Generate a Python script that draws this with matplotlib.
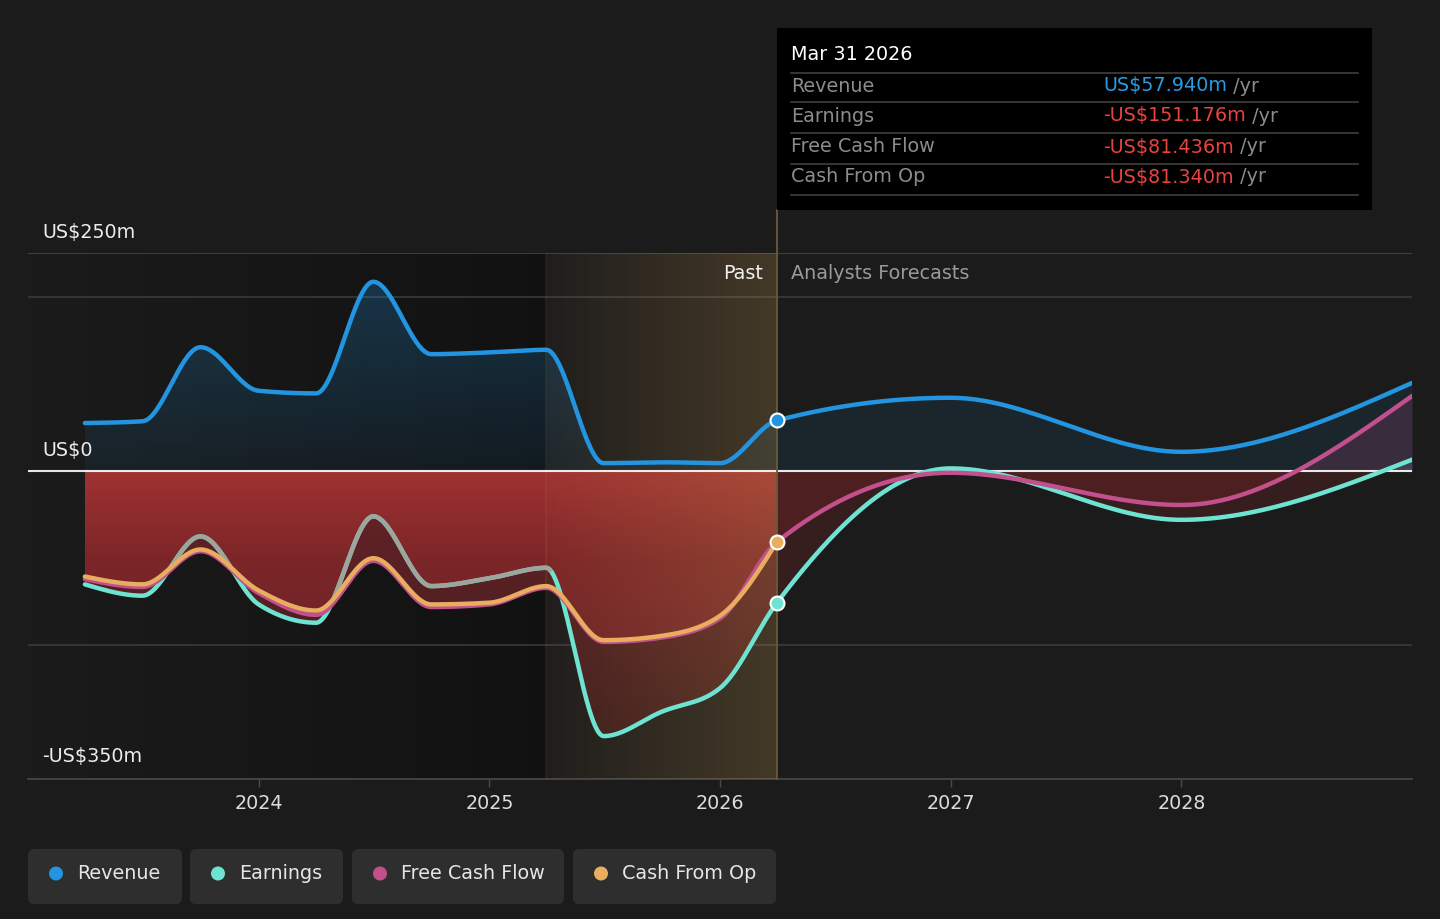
import datetime
import numpy as np
import matplotlib
matplotlib.use("Agg")
import matplotlib.pyplot as plt
from matplotlib.path import Path
from matplotlib.patches import PathPatch, FancyBboxPatch, Rectangle, Circle

# ---------------- data (US$ m) ----------------
past_dates = ["2023-03-31", "2023-06-30", "2023-09-30", "2023-12-31",
              "2024-03-31", "2024-06-30", "2024-09-30", "2024-12-31",
              "2025-03-31", "2025-06-30", "2025-09-30", "2025-12-31",
              "2026-03-31"]
forecast_dates = ["2026-12-31", "2027-12-31", "2028-12-31"]

revenue_past = [55, 57, 142, 92, 89, 217, 134, 136, 139, 9, 10, 9, 57.940]
revenue_fc = [84, 22, 101]
earnings_past = [-130, -143, -75, -153, -174, -52, -132, -123, -111,
                 -304, -276, -249, -151.176]
earnings_fc = [3, -56, 13]
fcf_past = [-124, -133, -92, -140, -165, -103, -156, -153, -134,
            -196, -191, -169, -81.436]
fcf_fc = [-2, -39, 86]
cfo_past = [-121, -130, -90, -137, -160, -100, -153, -151, -132,
            -194, -189, -166, -81.340]

year_ticks = [2024, 2025, 2026, 2027, 2028]
y_labels = [(250, "US$250m"), (0, "US$0"), (-350, "-US$350m")]
grid_vals = [250, 200, -200]
legend_names = ["Revenue", "Earnings", "Free Cash Flow", "Cash From Op"]

C_REV = "#2394df"
C_EARN = "#6fe3d2"
C_FCF = "#c1508c"
C_CFO = "#e8ad5f"
C_GRAY = "#9da59d"
BG = "#1b1b1b"
FS = 13.8


def dec_year(s):
    d = datetime.date.fromisoformat(s)
    start = datetime.date(d.year, 1, 1)
    ndays = (datetime.date(d.year + 1, 1, 1) - start).days
    return d.year + (d - start).days / ndays + 1 / ndays


def monotone(xs, ys, n=60):
    xs = np.asarray(xs, float)
    ys = np.asarray(ys, float)
    h = np.diff(xs)
    s = np.diff(ys) / h
    m = len(xs)
    t = np.zeros(m)
    sg = lambda v: -1.0 if v < 0 else 1.0
    for i in range(1, m - 1):
        h0, h1, s0, s1 = h[i - 1], h[i], s[i - 1], s[i]
        p = (s0 * h1 + s1 * h0) / (h0 + h1)
        t[i] = (sg(s0) + sg(s1)) * min(abs(s0), abs(s1), 0.5 * abs(p))
    t[0] = (3 * s[0] - t[1]) / 2
    t[-1] = (3 * s[-1] - t[-2]) / 2
    X, Y = [], []
    for i in range(m - 1):
        u = np.linspace(0, 1, n, endpoint=(i == m - 2))
        hh = h[i]
        h00 = 2 * u**3 - 3 * u**2 + 1
        h10 = u**3 - 2 * u**2 + u
        h01 = -2 * u**3 + 3 * u**2
        h11 = u**3 - u**2
        X.append(xs[i] + u * hh)
        Y.append(h00 * ys[i] + h10 * hh * t[i] + h01 * ys[i + 1] + h11 * hh * t[i + 1])
    return np.concatenate(X), np.concatenate(Y)


xp = np.array([dec_year(d) for d in past_dates])
xf = np.array([dec_year(d) for d in forecast_dates])
x_all = np.concatenate([xp, xf])
x_now = xp[-1]

xr, rev = monotone(x_all, revenue_past + revenue_fc)
_, earn = monotone(x_all, earnings_past + earnings_fc)
_, fcf = monotone(x_all, fcf_past + fcf_fc)
xc, cfo = monotone(xp, cfo_past)

W, H = 1440, 919
XMIN, XMAX = 2023.0, 2029.0
YMIN, YMAX = -353.2, 250.0

fig = plt.figure(figsize=(W / 100, H / 100), dpi=100)
fig.patch.set_facecolor(BG)
ax = fig.add_axes([28 / W, 1 - 779 / H, 1384 / W, (779 - 253) / H])
ax.set_facecolor("none")
ax.set_xlim(XMIN, XMAX)
ax.set_ylim(YMIN, YMAX)
for sp in ["top", "left", "right"]:
    ax.spines[sp].set_visible(False)
ax.spines["bottom"].set_color("#4a4a4a")
ax.spines["bottom"].set_linewidth(1.2)
ax.set_yticks([])
ax.set_xticks(year_ticks)
ax.set_xticklabels([str(y) for y in year_ticks])
ax.tick_params(axis="x", colors="#4a4a4a", length=6, width=1, pad=4.5,
               labelcolor="#dcdcdc", labelsize=FS)


def hgrad(x0, x1, stops, z):
    xs = np.linspace(x0, x1, 300)
    sx = [s[0] for s in stops]
    cols = np.array([s[1] for s in stops], float)
    img = np.zeros((2, 300, 4))
    for c in range(4):
        img[:, :, c] = np.interp(xs, sx, cols[:, c])[None, :]
    ax.imshow(img, extent=[x0, x1, YMIN, YMAX], origin="lower", aspect="auto",
              zorder=z, interpolation="bilinear")


def vgrad_fill(x, ya, yb, stops, z):
    verts = np.concatenate([np.column_stack([x, ya]), np.column_stack([x[::-1], yb[::-1]])])
    patch = PathPatch(Path(verts), facecolor="none", edgecolor="none", transform=ax.transData)
    ax.add_patch(patch)
    ys = np.linspace(YMIN, YMAX, 400)
    sy = [s[0] for s in stops]
    cols = np.array([s[1] for s in stops], float)
    img = np.zeros((400, 2, 4))
    for c in range(4):
        img[:, :, c] = np.interp(ys, sy, cols[:, c])[:, None]
    im = ax.imshow(img, extent=[x.min(), x.max(), YMIN, YMAX], origin="lower",
                   aspect="auto", zorder=z, interpolation="bilinear")
    im.set_clip_path(patch)


def rgb(r, g, b, a=1.0):
    return (r / 255, g / 255, b / 255, a)


# darkened past background
x_hl = dec_year("2025-03-31")
hgrad(XMIN, x_hl, [(XMIN, rgb(0, 0, 0, 0.0)), (x_hl, rgb(0, 0, 0, 0.35))], 0.5)

# grid lines
for g in grid_vals:
    ax.axhline(g, color="#3d3d3d" if g != 250 else "#4a4a4a", lw=1.1, zorder=1)

# past fills
pm = xr <= x_now + 1e-9
xpd = xr[pm]
zeros = np.zeros_like(xpd)
vgrad_fill(xpd, zeros, np.maximum(rev[pm], 0),
           [(0, rgb(35, 148, 223, 0.07)), (220, rgb(35, 148, 223, 0.26))], 2)
cfo_on = np.interp(xpd, xc, cfo)
stack = np.vstack([earn[pm], cfo_on, fcf[pm]])
upper = np.minimum(stack.max(axis=0), 0)
lower = np.minimum(stack.min(axis=0), 0)
vgrad_fill(xpd, zeros, lower,
           [(-353, rgb(52, 27, 27)), (-300, rgb(60, 28, 28)), (-150, rgb(84, 32, 35)),
            (0, rgb(104, 36, 40))], 2.1)
vgrad_fill(xpd, zeros, upper,
           [(-353, rgb(95, 32, 34)), (-200, rgb(110, 35, 38)), (-100, rgb(124, 38, 40)),
            (0, rgb(160, 50, 50))], 2.2)

# forecast fills
fm = xr >= x_now - 1e-9
xfd = xr[fm]
ax.fill_between(xfd, 0, np.maximum(rev[fm], 0), color=C_REV, alpha=0.09, lw=0, zorder=2)
for ser in (earn[fm], fcf[fm]):
    ax.fill_between(xfd, 0, np.minimum(ser, 0), color=rgb(200, 45, 50), alpha=0.16, lw=0, zorder=2)
ax.fill_between(xfd, 0, np.maximum(fcf[fm], 0), color=C_FCF, alpha=0.18, lw=0, zorder=2)
ax.fill_between(xfd, 0, np.maximum(earn[fm], 0), color=C_EARN, alpha=0.12, lw=0, zorder=2)

# highlighted last-year band
hgrad(x_hl, x_now, [(x_hl, rgb(200, 154, 80, 0.03)), (x_now, rgb(200, 154, 80, 0.24))], 3)
ax.plot([x_hl, x_hl], [YMIN, YMAX], color="#c89a50", alpha=0.12, lw=1.2, zorder=3.1)

# zero line
ax.axhline(0, color="white", lw=1.5, alpha=0.9, zorder=3.5)

# lines
ax.plot(xr, rev, color=C_REV, lw=3.2, zorder=5, solid_capstyle="round")
ax.plot(xr, earn, color=C_EARN, lw=3.2, zorder=5.1, solid_capstyle="round")
earn_gray = np.where((xr <= x_hl + 0.02) & (earn > np.interp(xr, xc, cfo)), earn, np.nan)
ax.plot(xr, earn_gray, color=C_GRAY, lw=3.2, zorder=5.15, solid_capstyle="round")
ax.plot(xr, fcf, color=C_FCF, lw=3.2, zorder=5.2, solid_capstyle="round")
ax.plot(xc, cfo, color=C_CFO, lw=3.2, zorder=5.3, solid_capstyle="round")

# current markers
for val, col in ((revenue_past[-1], C_REV), (earnings_past[-1], C_EARN), (cfo_past[-1], C_CFO)):
    ax.plot([x_now], [val], marker="o", ms=10, mfc=col, mec="white", mew=1.5, zorder=7)

# vertical "now" line up to tooltip
ax.plot([x_now, x_now], [YMIN, YMAX + (253 - 210) / 0.872], color="#6b5a38",
        lw=1.3, zorder=4, clip_on=False)

# Past / forecast labels
ax.annotate("Past", (x_now, 226), xytext=(-10, 0), textcoords="offset points",
            ha="right", va="center", color="#f0f0f0", fontsize=FS, zorder=8)
ax.annotate("Analysts Forecasts", (x_now, 226), xytext=(10.5, 0), textcoords="offset points",
            ha="left", va="center", color="#9a9a9a", fontsize=FS, zorder=8)

# y labels
for v, lab in y_labels:
    ax.annotate(lab, (XMIN, v), xytext=(10, 14.5), textcoords="offset points",
                ha="left", va="center", color="#ececec", fontsize=FS,
                annotation_clip=False, zorder=8)

# ---------------- overlay (pixel coordinates) ----------------
ov = fig.add_axes([0, 0, 1, 1])
ov.set_xlim(0, W)
ov.set_ylim(H, 0)
ov.axis("off")
ov.set_facecolor("none")

# tooltip
ov.add_patch(Rectangle((777, 28), 595, 182, facecolor="black", edgecolor="none", zorder=1))
d_now = datetime.date.fromisoformat(past_dates[-1])
ov.text(791, 55, d_now.strftime("%b %d %Y"), color="white", fontsize=FS, va="center", zorder=2)
for yy in (73, 102, 133, 164, 195):
    ov.plot([791, 1358], [yy, yy], color="#3f3f3f", lw=1.2, zorder=2)


def money(v):
    return ("-" if v < 0 else "") + "US$" + f"{abs(v):.3f}m"


rows = [("Revenue", revenue_past[-1], "#2d9ae0"),
        ("Earnings", earnings_past[-1], "#e8433f"),
        ("Free Cash Flow", fcf_past[-1], "#e8433f"),
        ("Cash From Op", cfo_past[-1], "#e8433f")]
vals_txt = []
for (lab, v, col), yy in zip(rows, (86, 116, 147, 177)):
    ov.text(791, yy, lab, color="#8c8c8c", fontsize=FS, va="center", zorder=2)
    t = ov.text(1103, yy, money(v), color=col, fontsize=FS, va="center", zorder=2)
    vals_txt.append((t, yy))

fig.canvas.draw()
renderer = fig.canvas.get_renderer()
inv = ov.transData.inverted()
for t, yy in vals_txt:
    bb = t.get_window_extent(renderer)
    xend = inv.transform((bb.x1, bb.y0))[0]
    ov.text(xend, yy, " /yr", color="#8c8c8c", fontsize=FS, va="center", zorder=2)

# legend
boxes = [(28, 182), (190, 343), (352, 564), (573, 776)]
lcols = [C_REV, C_EARN, C_FCF, C_CFO]
for (x0, x1), name, col in zip(boxes, legend_names, lcols):
    ov.add_patch(FancyBboxPatch((x0, 849), x1 - x0, 55,
                                boxstyle="round,pad=0,rounding_size=6",
                                facecolor="#2e2e2e", edgecolor="none", zorder=1))
    ov.add_patch(Circle((x0 + 28, 873.5), 7, facecolor=col, edgecolor="none", zorder=2))
    ov.text(x0 + 49, 873.5, name, color="#e6e6e6", fontsize=FS, va="center", zorder=2)

fig.savefig("out.png", dpi=100, facecolor=BG)
